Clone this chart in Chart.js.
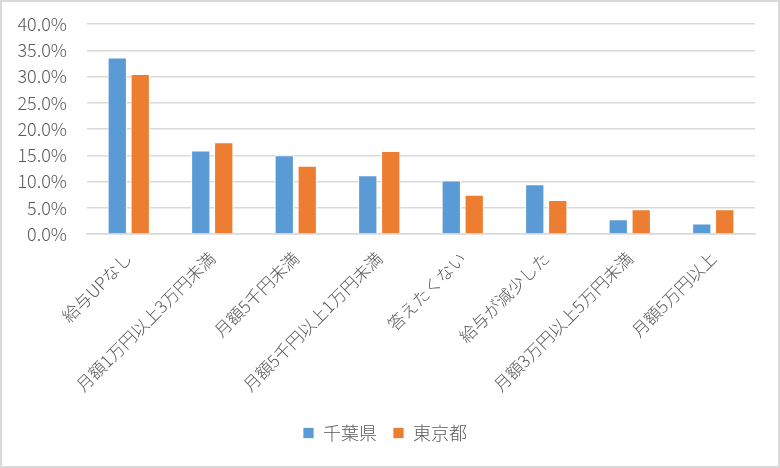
<!DOCTYPE html>
<html><head><meta charset="utf-8">
<script src="https://cdn.jsdelivr.net/npm/chart.js@4"></script>
<style>
html,body{margin:0;padding:0;background:#fff;}
#wrap{width:780px;height:468px;box-sizing:border-box;border:2px solid #d9d9d9;background:#fff;}
</style></head>
<body>
<div id="wrap"><canvas id="c" width="776" height="464"></canvas></div>
<script>
const categories = ["給与UPなし","月額1万円以上3万円未満","月額5千円未満","月額5千円以上1万円未満","答えたくない","給与が減少した","月額3万円以上5万円未満","月額5万円以上"];
const chiba = [33.6, 15.9, 15.0, 11.2, 10.2, 9.5, 2.8, 2.0];
const tokyo = [30.5, 17.5, 13.0, 15.8, 7.5, 6.5, 4.7, 4.7];
const seriesNames = ["千葉県","東京都"];
const yTicks = {min:0, max:40, step:5};
const FONT = "'Noto Sans CJK JP','Noto Sans',sans-serif";
const TXT = "#595959";
new Chart(document.getElementById('c'), {
  type:'bar',
  data:{
    labels:categories,
    datasets:[
      {label:seriesNames[0], data:chiba, backgroundColor:'#5b9bd5', borderColor:'#ffffff', borderWidth:{left:1,right:1,top:1,bottom:0}, categoryPercentage:0.55, barPercentage:0.84},
      {label:seriesNames[1], data:tokyo, backgroundColor:'#ed7d31', borderColor:'#ffffff', borderWidth:{left:1,right:1,top:1,bottom:0}, categoryPercentage:0.55, barPercentage:0.84}
    ]
  },
  options:{
    responsive:false, animation:false,
    layout:{padding:{left:13,right:23,top:22,bottom:14}},
    plugins:{
      legend:{position:'bottom', labels:{boxWidth:11, boxHeight:11, padding:16, color:TXT, font:{family:FONT,size:18,weight:300}}},
      tooltip:{enabled:false}
    },
    scales:{
      x:{
        grid:{display:false},
        border:{display:true, color:'#d9d9d9', width:1.5},
        ticks:{color:TXT, font:{family:FONT,size:17,weight:300}, minRotation:45, maxRotation:45, padding:6, autoSkip:false},
        afterFit:(s)=>{ s.height = 174; s.paddingLeft = 0; s.paddingRight = 0; }
      },
      y:{
        min:yTicks.min, max:yTicks.max,
        grid:{color:'#d9d9d9', lineWidth:1.5, drawTicks:false},
        border:{display:false},
        ticks:{stepSize:yTicks.step, color:TXT, font:{family:FONT,size:18,weight:300}, padding:20, callback:v=>v.toFixed(1)+'%'},
        afterFit:(s)=>{ s.width = 72; s.paddingTop = 0; s.paddingBottom = 0; }
      }
    }
  }
});
</script>
</body></html>
